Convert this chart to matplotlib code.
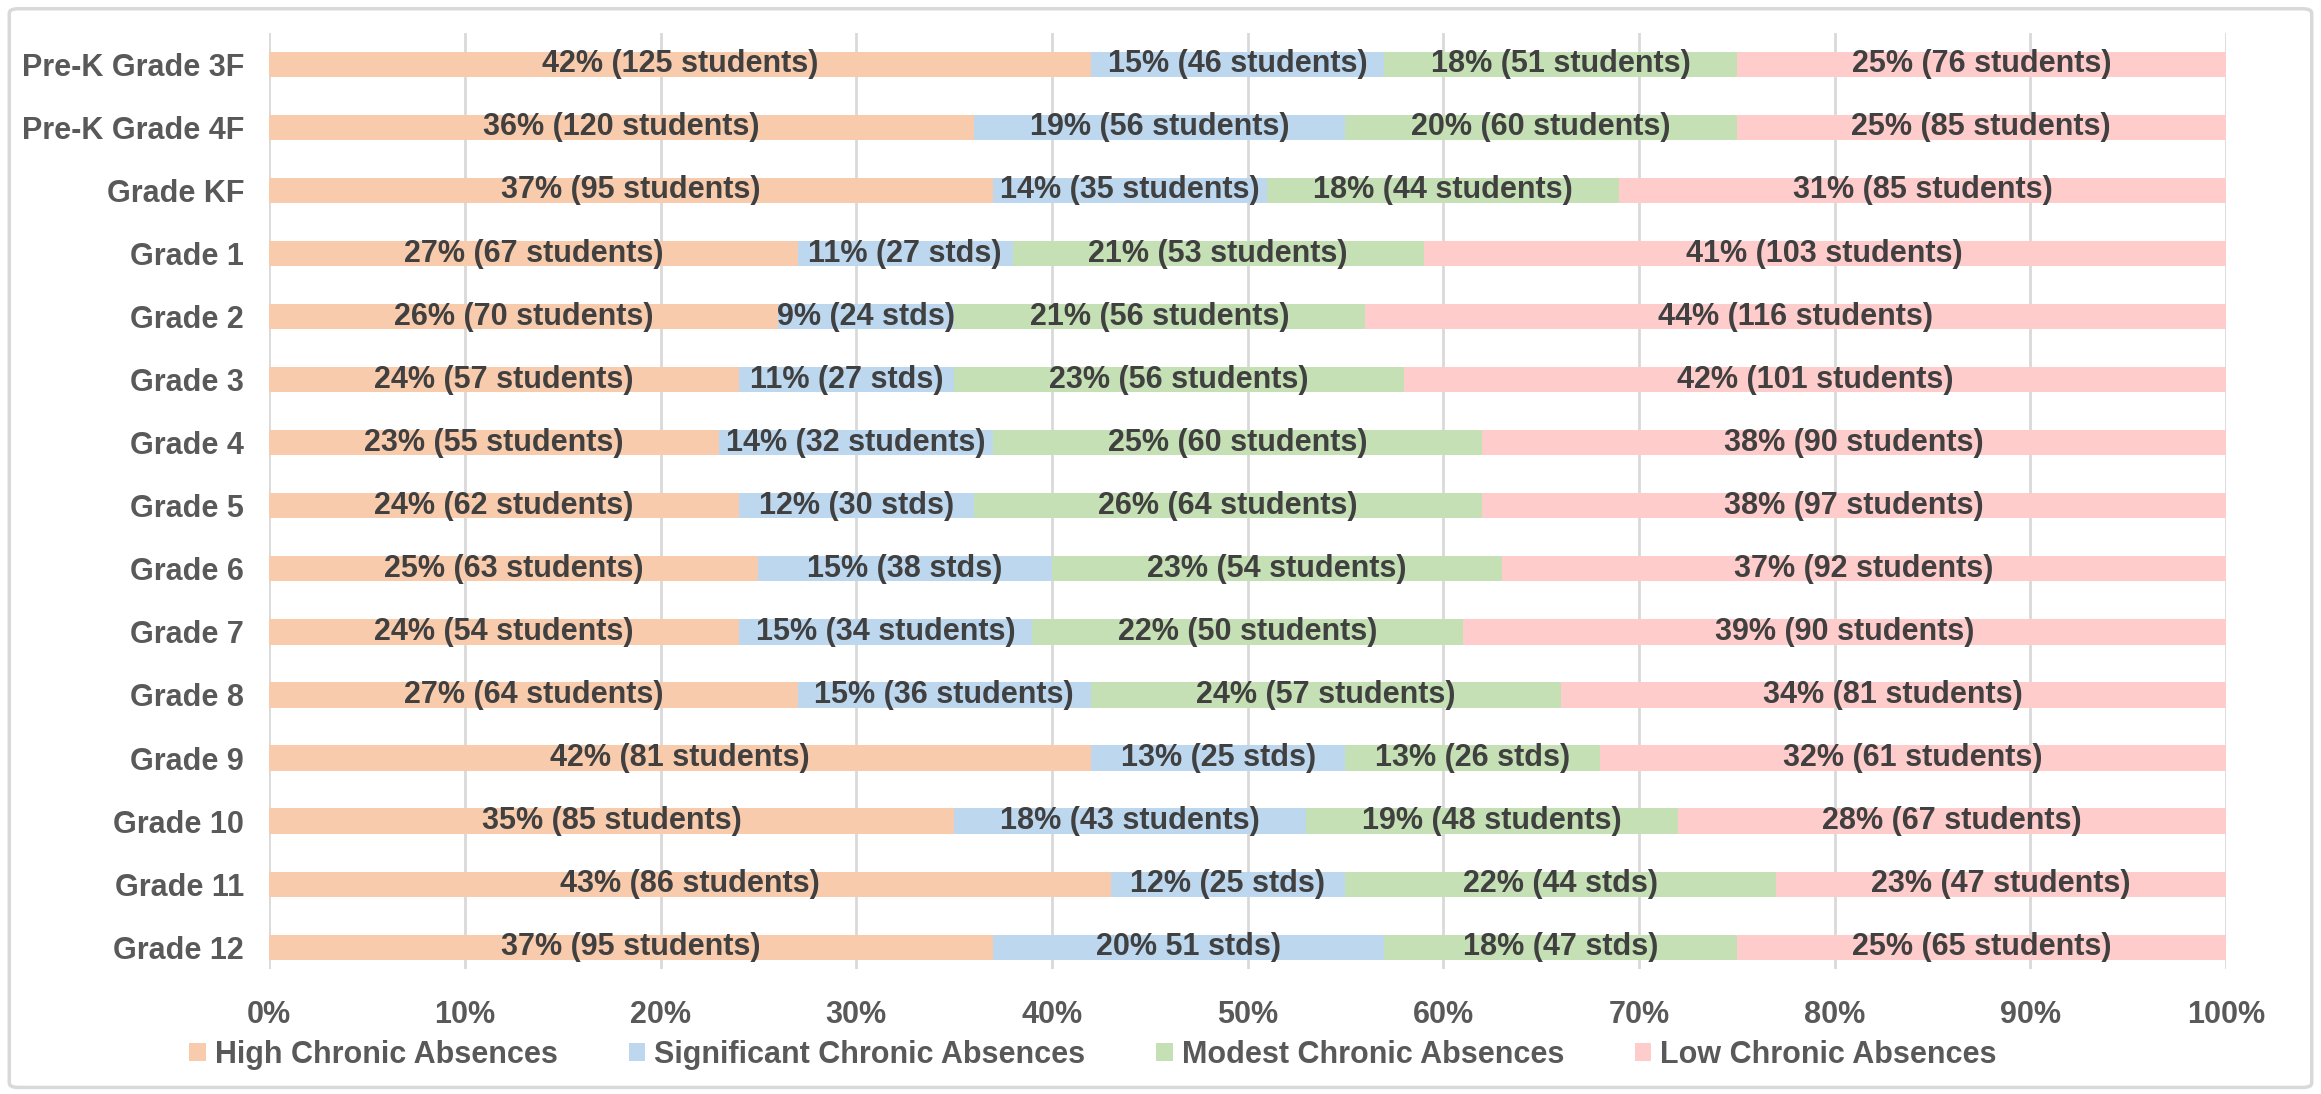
import matplotlib
matplotlib.use("Agg")
import matplotlib.pyplot as plt
from matplotlib.patches import FancyBboxPatch, Patch
import numpy as np

# data
grades = ["Pre-K Grade 3F", "Pre-K Grade 4F", "Grade KF", "Grade 1", "Grade 2",
          "Grade 3", "Grade 4", "Grade 5", "Grade 6", "Grade 7", "Grade 8",
          "Grade 9", "Grade 10", "Grade 11", "Grade 12"]

high = [42, 36, 37, 27, 26, 24, 23, 24, 25, 24, 27, 42, 35, 43, 37]
significant = [15, 19, 14, 11, 9, 11, 14, 12, 15, 15, 15, 13, 18, 12, 20]
modest = [18, 20, 18, 21, 21, 23, 25, 26, 23, 22, 24, 13, 19, 22, 18]
low = [25, 25, 31, 41, 44, 42, 38, 38, 37, 39, 34, 32, 28, 23, 25]

high_labels = ["42% (125 students)", "36% (120 students)", "37% (95 students)",
               "27% (67 students)", "26% (70 students)", "24% (57 students)",
               "23% (55 students)", "24% (62 students)", "25% (63 students)",
               "24% (54 students)", "27% (64 students)", "42% (81 students)",
               "35% (85 students)", "43% (86 students)", "37% (95 students)"]
significant_labels = ["15% (46 students)", "19% (56 students)", "14% (35 students)",
                      "11% (27 stds)", "9% (24 stds)", "11% (27 stds)",
                      "14% (32 students)", "12% (30 stds)", "15% (38 stds)",
                      "15% (34 students)", "15% (36 students)", "13% (25 stds)",
                      "18% (43 students)", "12% (25 stds)", "20% 51 stds)"]
modest_labels = ["18% (51 students)", "20% (60 students)", "18% (44 students)",
                 "21% (53 students)", "21% (56 students)", "23% (56 students)",
                 "25% (60 students)", "26% (64 students)", "23% (54 students)",
                 "22% (50 students)", "24% (57 students)", "13% (26 stds)",
                 "19% (48 students)", "22% (44 stds)", "18% (47 stds)"]
low_labels = ["25% (76 students)", "25% (85 students)", "31% (85 students)",
              "41% (103 students)", "44% (116 students)", "42% (101 students)",
              "38% (90 students)", "38% (97 students)", "37% (92 students)",
              "39% (90 students)", "34% (81 students)", "32% (61 students)",
              "28% (67 students)", "23% (47 students)", "25% (65 students)"]

series_names = ["High Chronic Absences", "Significant Chronic Absences",
                "Modest Chronic Absences", "Low Chronic Absences"]
colors = ["#F8CBAD", "#BDD7EE", "#C5E0B4", "#FFCCCC"]

FONT = ["Liberation Sans", "DejaVu Sans"]
FS = 22
TXT = "#404040"
AX = "#595959"

fig = plt.figure(figsize=(23.21, 10.94), dpi=100)
ax = fig.add_axes([0.116, 0.114, 0.843, 0.856])

y = np.arange(len(grades))
left = np.zeros(len(grades))
for vals, labs, col in zip([high, significant, modest, low],
                           [high_labels, significant_labels, modest_labels, low_labels],
                           colors):
    vals = np.array(vals, dtype=float)
    ax.barh(y, vals, left=left, height=0.4, color=col, zorder=2)
    for i in range(len(grades)):
        ax.text(left[i] + vals[i] / 2, y[i], labs[i], ha="center", va="center",
                fontsize=FS, fontweight="bold", color=TXT, family=FONT, zorder=3)
    left += vals

ax.set_xlim(0, 100)
ax.set_ylim(14.35, -0.5)
ax.set_yticks(y)
ax.set_yticklabels(grades)
ax.set_xticks(np.arange(0, 101, 10))
ax.set_xticklabels([f"{v}%" for v in range(0, 101, 10)])
for lab in ax.get_xticklabels() + ax.get_yticklabels():
    lab.set_family(FONT)
    lab.set_fontsize(FS)
    lab.set_fontweight("bold")
    lab.set_color(AX)
ax.tick_params(axis="both", length=0)
ax.tick_params(axis="y", pad=18)
ax.tick_params(axis="x", pad=22)
ax.grid(axis="x", color="#D9D9D9", linewidth=2, zorder=0)
for s in ax.spines.values():
    s.set_visible(False)

handles = [Patch(facecolor=c, edgecolor="none") for c in colors]
leg = fig.legend(handles, series_names, loc="center", bbox_to_anchor=(0.471, 0.036),
                 ncol=4, frameon=False, handlelength=0.55, handleheight=0.55,
                 handletextpad=0.3, columnspacing=2.3,
                 prop={"family": FONT, "size": FS, "weight": "bold"})
for t in leg.get_texts():
    t.set_color(AX)

# light frame around the chart
fig.patches.append(FancyBboxPatch((0.004, 0.006), 0.992, 0.986,
                                  boxstyle="round,pad=0,rounding_size=0.004",
                                  transform=fig.transFigure, facecolor="none",
                                  edgecolor="#D9D9D9", linewidth=2.5))

fig.savefig("out.png", dpi=100)
